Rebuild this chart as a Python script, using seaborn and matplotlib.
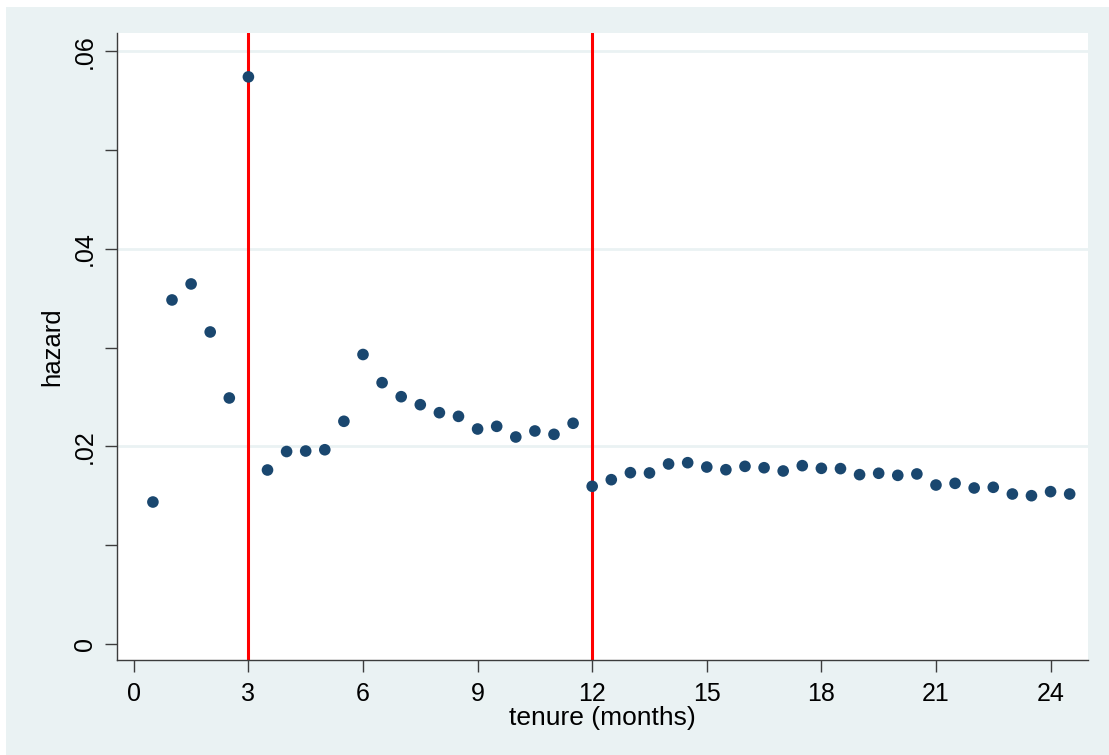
"""
Hazard by tenure (months) - Stata style scatter with cut-off lines
"""

# ============================================================================
# Import Required Libraries
# ============================================================================

import pandas as pd

import matplotlib

matplotlib.use("Agg")

import matplotlib.pyplot as plt

from matplotlib.patches import Rectangle

import seaborn as sns


# ============================================================================
# Data
# ============================================================================

tenure = [
    0.5, 1.0, 1.5, 2.0, 2.5, 3.0, 3.5, 4.0, 4.5, 5.0,
    5.5, 6.0, 6.5, 7.0, 7.5, 8.0, 8.5, 9.0, 9.5, 10.0,
    10.5, 11.0, 11.5, 12.0, 12.5, 13.0, 13.5, 14.0, 14.5, 15.0,
    15.5, 16.0, 16.5, 17.0, 17.5, 18.0, 18.5, 19.0, 19.5, 20.0,
    20.5, 21.0, 21.5, 22.0, 22.5, 23.0, 23.5, 24.0, 24.5,
]

hazard = [
    0.01437, 0.03482, 0.03644, 0.03158, 0.02490, 0.05740, 0.01761, 0.01948, 0.01953, 0.01966,
    0.02254, 0.02930, 0.02645, 0.02503, 0.02422, 0.02341, 0.02304, 0.02176, 0.02203, 0.02095,
    0.02156, 0.02122, 0.02234, 0.01596, 0.01663, 0.01734, 0.01731, 0.01822, 0.01835, 0.01791,
    0.01764, 0.01798, 0.01784, 0.01751, 0.01805, 0.01778, 0.01775, 0.01714, 0.01728, 0.01707,
    0.01721, 0.01609, 0.01626, 0.01579, 0.01586, 0.01518, 0.01501, 0.01542, 0.01518,
]

cutoffs = [3, 12]

x_ticks = [0, 3, 6, 9, 12, 15, 18, 21, 24]
y_ticks = [0, 0.02, 0.04, 0.06]
y_tick_labels = ["0", ".02", ".04", ".06"]
y_minor = [0.01, 0.03, 0.05]

df = pd.DataFrame({"tenure": tenure, "hazard": hazard})


# ============================================================================
# Configure Visualization
# ============================================================================

sns.set_theme(style="white")

plt.rcParams["font.family"] = ["Liberation Sans", "DejaVu Sans"]

BG = "#EAF2F3"
NAVY = "#1A476F"
AXIS = "#3C3C3C"


# ============================================================================
# Figure
# ============================================================================

fig = plt.figure(figsize=(11.09, 7.55), dpi=100)
fig.patch.set_facecolor("white")

# Stata graph region (small white margin at top/left in the reference)
fig.patches.append(
    Rectangle(
        (6 / 1109, 0), 1, (755 - 7) / 755,
        transform=fig.transFigure, facecolor=BG, edgecolor="none", zorder=-10
    )
)

ax = fig.add_axes([117 / 1109, 95 / 755, 971 / 1109, 627 / 755])
ax.set_facecolor("white")

for y in y_ticks[1:]:
    ax.axhline(y, color=BG, linewidth=2, zorder=0)

for c in cutoffs:
    ax.axvline(c, color="#FF0000", linewidth=2.2, zorder=1)

sns.scatterplot(
    data=df,
    x="tenure",
    y="hazard",
    color=NAVY,
    s=70,
    edgecolor="none",
    zorder=3,
    ax=ax
)

ax.set_xlim(-0.44, 24.98)
ax.set_ylim(-0.00162, 0.06184)

ax.set_xticks(x_ticks)
ax.set_xticklabels([str(t) for t in x_ticks], fontsize=18)

ax.set_yticks(y_ticks)
ax.set_yticklabels(y_tick_labels, fontsize=18, rotation=90, va="center")
ax.set_yticks(y_minor, minor=True)

ax.tick_params(axis="both", which="both", direction="out", length=8.5,
               width=1, color=AXIS, labelcolor="black",
               bottom=True, left=True)
ax.tick_params(axis="x", which="both", pad=7)
ax.tick_params(axis="y", which="both", pad=6)

ax.set_xlabel("tenure (months)", fontsize=19, labelpad=0, color="black")
ax.set_ylabel("hazard", fontsize=18.5, labelpad=6, color="black")

for side in ["top", "right"]:
    ax.spines[side].set_visible(False)

for side in ["left", "bottom"]:
    ax.spines[side].set_color(AXIS)
    ax.spines[side].set_linewidth(1)

plt.savefig("out.png", dpi=100, facecolor=fig.get_facecolor())
